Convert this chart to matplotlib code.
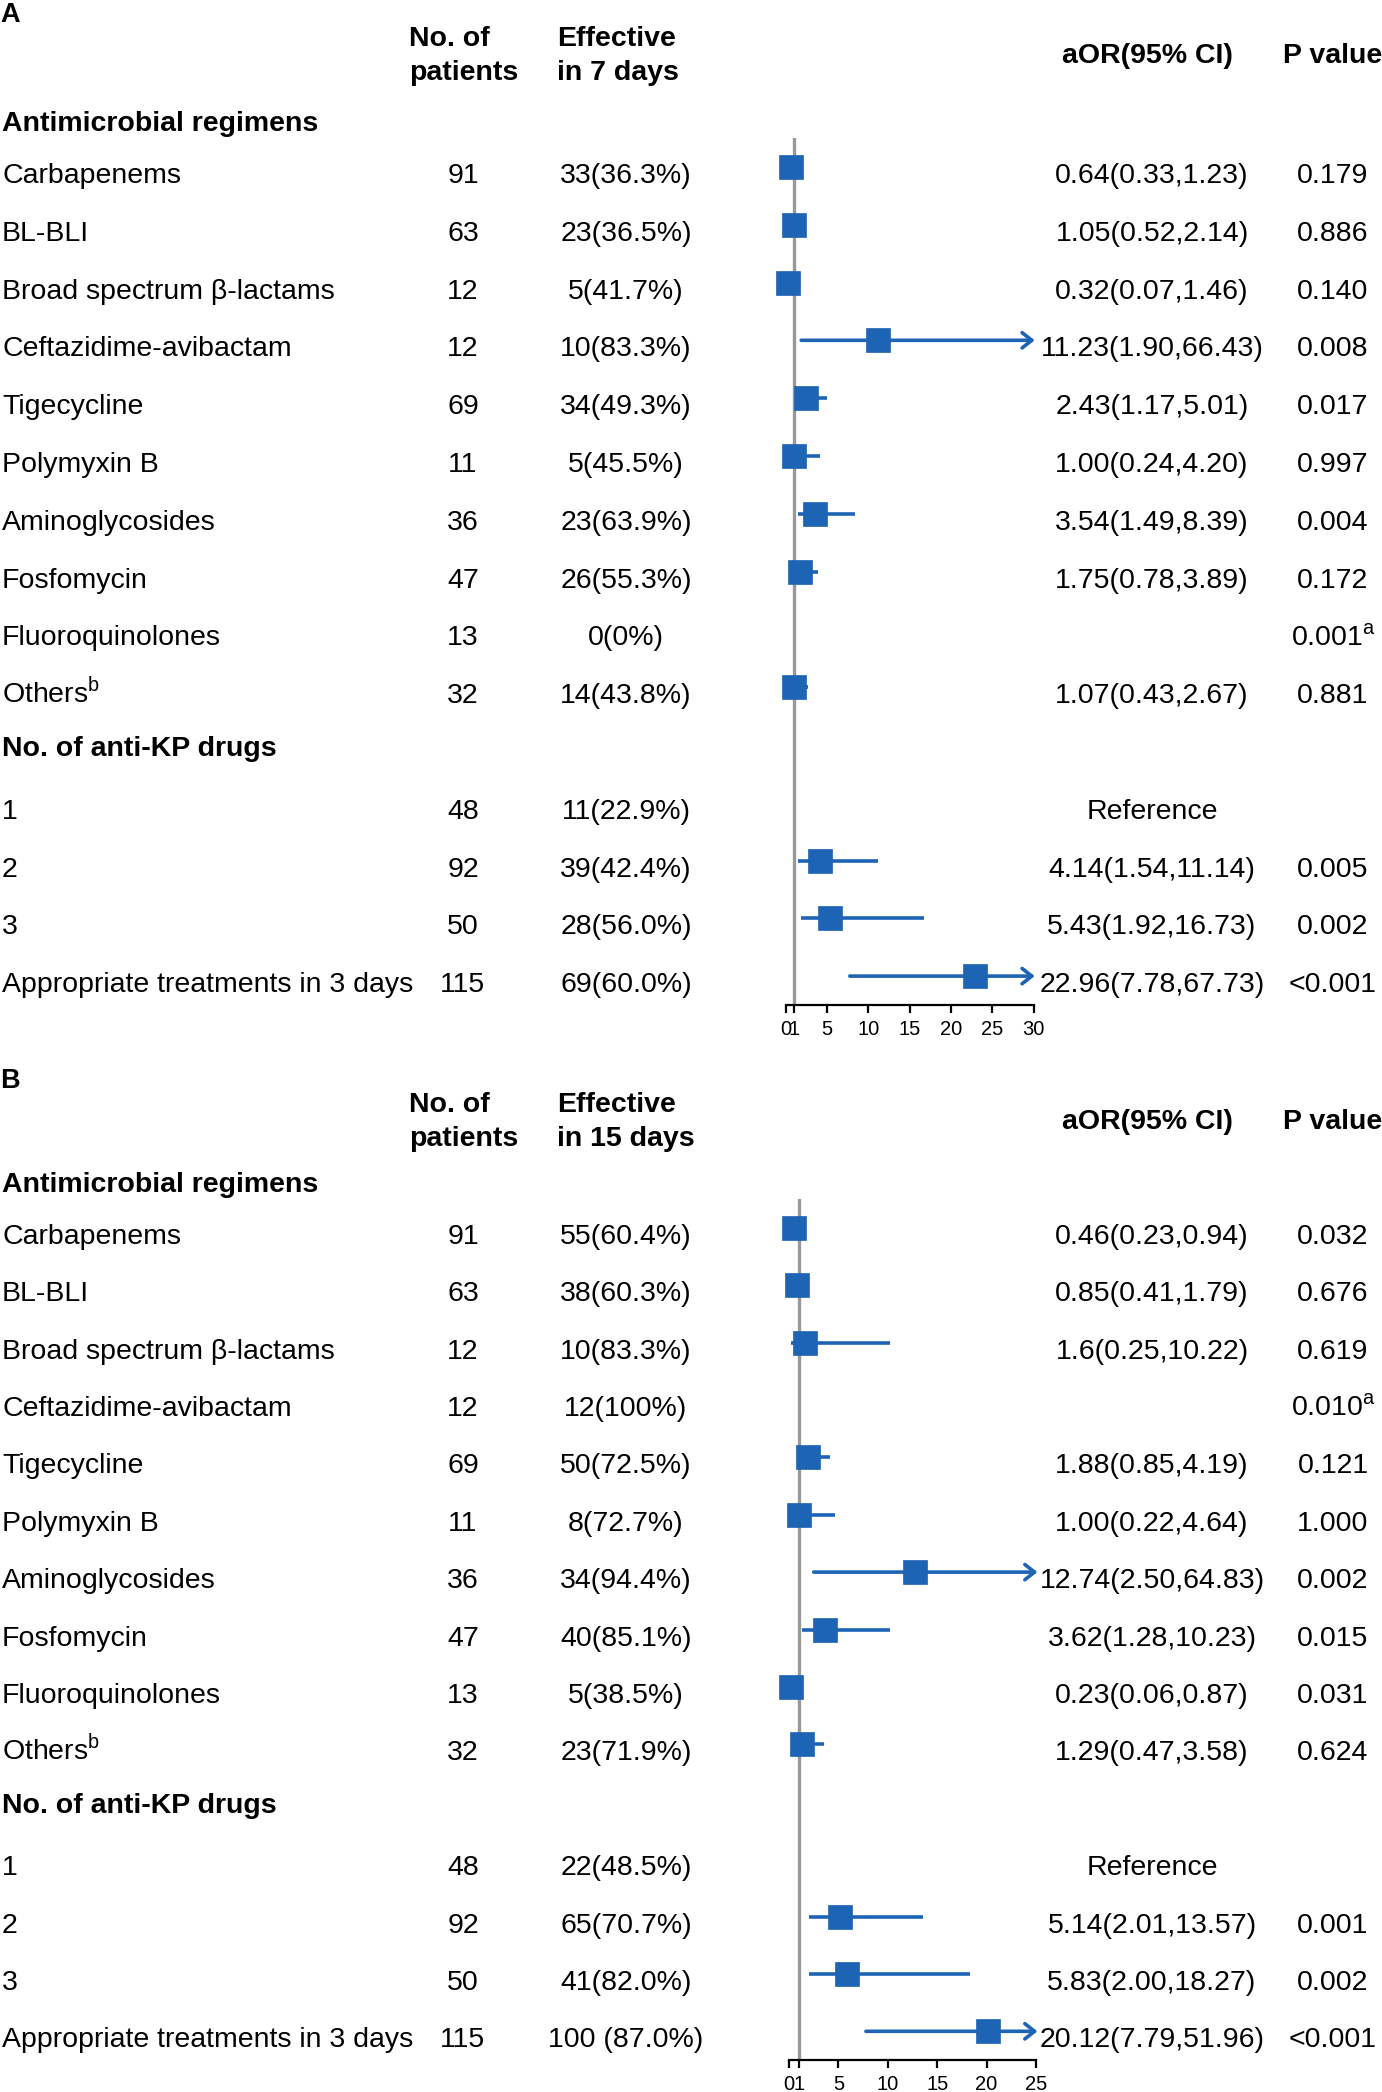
import numpy as np
import matplotlib
matplotlib.use('Agg')
import matplotlib.pyplot as plt
from matplotlib.transforms import blended_transform_factory

plt.rcParams['font.family'] = ['Liberation Sans', 'DejaVu Sans']

# table data (same rows in both panels)
labels = ['Carbapenems', 'BL-BLI', 'Broad spectrum \u03b2-lactams', 'Ceftazidime-avibactam',
          'Tigecycline', 'Polymyxin B', 'Aminoglycosides', 'Fosfomycin', 'Fluoroquinolones',
          'Others$^{\\mathregular{b}}$', '1', '2', '3', 'Appropriate treatments in 3 days']
patients = [91, 63, 12, 12, 69, 11, 36, 47, 13, 32, 48, 92, 50, 115]

# panel A: effective in 7 days
eff7 = ['33(36.3%)', '23(36.5%)', '5(41.7%)', '10(83.3%)', '34(49.3%)', '5(45.5%)',
        '23(63.9%)', '26(55.3%)', '0(0%)', '14(43.8%)', '11(22.9%)', '39(42.4%)',
        '28(56.0%)', '69(60.0%)']
or7 = [0.64, 1.05, 0.32, 11.23, 2.43, 1.00, 3.54, 1.75, np.nan, 1.07, np.nan, 4.14, 5.43, 22.96]
lo7 = [0.33, 0.52, 0.07, 1.90, 1.17, 0.24, 1.49, 0.78, np.nan, 0.43, np.nan, 1.54, 1.92, 7.78]
hi7 = [1.23, 2.14, 1.46, 66.43, 5.01, 4.20, 8.39, 3.89, np.nan, 2.67, np.nan, 11.14, 16.73, 67.73]
aor7 = ['0.64(0.33,1.23)', '1.05(0.52,2.14)', '0.32(0.07,1.46)', '11.23(1.90,66.43)',
        '2.43(1.17,5.01)', '1.00(0.24,4.20)', '3.54(1.49,8.39)', '1.75(0.78,3.89)', '',
        '1.07(0.43,2.67)', 'Reference', '4.14(1.54,11.14)', '5.43(1.92,16.73)',
        '22.96(7.78,67.73)']
p7 = ['0.179', '0.886', '0.140', '0.008', '0.017', '0.997', '0.004', '0.172',
      '0.001$^{\\mathregular{a}}$', '0.881', '', '0.005', '0.002', '<0.001']

# panel B: effective in 15 days
eff15 = ['55(60.4%)', '38(60.3%)', '10(83.3%)', '12(100%)', '50(72.5%)', '8(72.7%)',
         '34(94.4%)', '40(85.1%)', '5(38.5%)', '23(71.9%)', '22(48.5%)', '65(70.7%)',
         '41(82.0%)', '100 (87.0%)']
or15 = [0.46, 0.85, 1.6, np.nan, 1.88, 1.00, 12.74, 3.62, 0.23, 1.29, np.nan, 5.14, 5.83, 20.12]
lo15 = [0.23, 0.41, 0.25, np.nan, 0.85, 0.22, 2.50, 1.28, 0.06, 0.47, np.nan, 2.01, 2.00, 7.79]
hi15 = [0.94, 1.79, 10.22, np.nan, 4.19, 4.64, 64.83, 10.23, 0.87, 3.58, np.nan, 13.57, 18.27, 51.96]
aor15 = ['0.46(0.23,0.94)', '0.85(0.41,1.79)', '1.6(0.25,10.22)', '', '1.88(0.85,4.19)',
         '1.00(0.22,4.64)', '12.74(2.50,64.83)', '3.62(1.28,10.23)', '0.23(0.06,0.87)',
         '1.29(0.47,3.58)', 'Reference', '5.14(2.01,13.57)', '5.83(2.00,18.27)',
         '20.12(7.79,51.96)']
p15 = ['0.032', '0.676', '0.619', '0.010$^{\\mathregular{a}}$', '0.121', '1.000', '0.002',
       '0.015', '0.031', '0.624', '', '0.001', '0.002', '<0.001']

W, H = 1382, 2092
BLUE = '#1E64B4'
FS = 20.5

fig = plt.figure(figsize=(W / 100, H / 100), dpi=100)


def fx(x):
    return x / W


def fy(y):
    return 1 - y / H


def panel(letter, dy, ax_box, xmax, xticks, eff_head, eff, ors, los, his, aor, pv):
    left, right, top, bottom = ax_box
    ax = fig.add_axes([fx(left), fy(bottom), fx(right - left), (bottom - top) / H])
    ax.set_xlim(0, xmax)
    ax.set_ylim(15.5, 0.5)
    for s in ['top', 'right', 'left']:
        ax.spines[s].set_visible(False)
    ax.spines['bottom'].set_linewidth(1.6)
    ax.set_yticks([])
    ax.set_xticks(xticks)
    ax.tick_params(axis='x', direction='out', length=6, width=1.6, labelsize=14.5, pad=5)
    ax.axvline(1, color='#999999', lw=2.4, zorder=1)

    rows = [i + 1 for i in range(10)] + [i + 12 for i in range(4)]
    for r, o, lo, hi in zip(rows, ors, los, his):
        if np.isnan(o):
            continue
        if hi > xmax:
            ax.annotate('', xy=(xmax + 0.15, r), xytext=(lo, r),
                        arrowprops=dict(arrowstyle='->,head_length=0.7,head_width=0.55',
                                        lw=2.6, color=BLUE, shrinkA=0, shrinkB=0),
                        annotation_clip=False, zorder=2)
        else:
            ax.plot([lo, hi], [r, r], color=BLUE, lw=2.6, solid_capstyle='butt',
                    zorder=2, clip_on=False)
        ax.plot(o, r, marker='s', ms=17.5, color=BLUE, mec=BLUE, mew=0.5,
                zorder=3, clip_on=False)

    tr = blended_transform_factory(fig.transFigure, ax.transData)
    off = 0.28
    ax.text(fx(2), 0.1 + off, 'Antimicrobial regimens', transform=tr, fontsize=FS,
            fontweight='bold', va='baseline', ha='left')
    ax.text(fx(2), 11 + off - 0.08, 'No. of anti-KP drugs', transform=tr, fontsize=FS,
            fontweight='bold', va='baseline', ha='left')
    for r, lab, n, e, a, p in zip(rows, labels, patients, eff, aor, pv):
        y = r + off
        ax.text(fx(2), y, lab, transform=tr, fontsize=FS, va='baseline', ha='left')
        ax.text(fx(463), y, str(n), transform=tr, fontsize=FS, va='baseline', ha='center')
        ax.text(fx(626), y, e, transform=tr, fontsize=FS, va='baseline', ha='center')
        ax.text(fx(1152), y, a, transform=tr, fontsize=FS, va='baseline', ha='center')
        ax.text(fx(1333), y, p, transform=tr, fontsize=FS, va='baseline', ha='center')

    # headers
    fig.text(fx(0), fy(22 + dy), letter, fontsize=FS - 1, fontweight='bold', va='baseline')
    fig.text(fx(409), fy(46 + dy), 'No. of', fontsize=FS, fontweight='bold', va='baseline')
    fig.text(fx(409), fy(80 + dy), 'patients', fontsize=FS, fontweight='bold', va='baseline')
    fig.text(fx(557), fy(46 + dy), 'Effective', fontsize=FS, fontweight='bold', va='baseline')
    fig.text(fx(557), fy(80 + dy), eff_head, fontsize=FS, fontweight='bold', va='baseline')
    fig.text(fx(1147), fy(63 + dy), 'aOR(95% CI)', fontsize=FS, fontweight='bold',
             va='baseline', ha='center')
    fig.text(fx(1283), fy(63 + dy), 'P value', fontsize=FS, fontweight='bold',
             va='baseline', ha='left')
    return ax


panel('A', 0, (785.5, 1033.5, 138, 1005), 30, [0, 1, 5, 10, 15, 20, 25, 30],
      'in 7 days', eff7, or7, lo7, hi7, aor7, p7)
panel('B', 1066, (789, 1036, 1199, 2060), 25, [0, 1, 5, 10, 15, 20, 25],
      'in 15 days', eff15, or15, lo15, hi15, aor15, p15)

fig.savefig('out.png', dpi=100)
